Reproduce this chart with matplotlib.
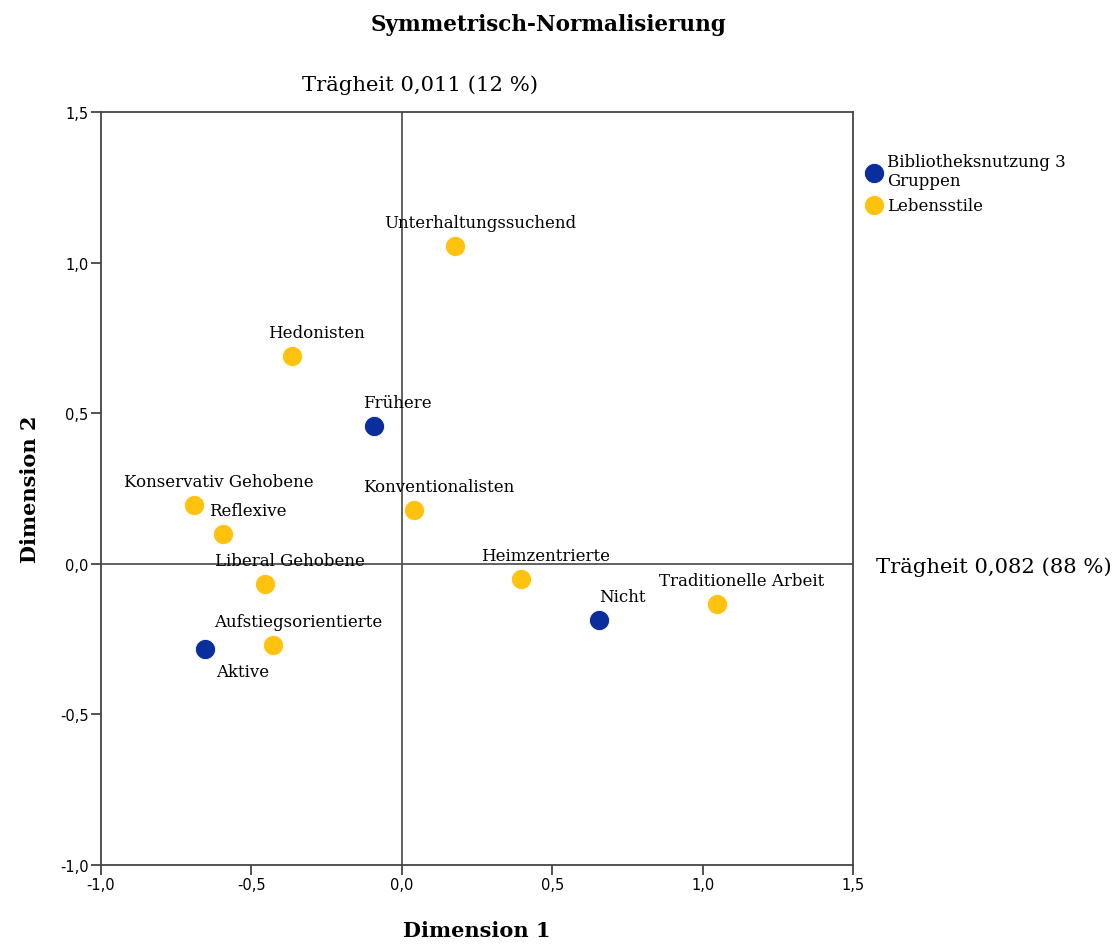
import matplotlib
matplotlib.use("Agg")
import matplotlib.pyplot as plt
from matplotlib.ticker import FixedLocator, FuncFormatter

# Bibliotheksnutzung 3 Gruppen
usage_labels = ["Frühere", "Nicht", "Aktive"]
usage_dim1 = [-0.093, 0.655, -0.655]
usage_dim2 = [0.458, -0.186, -0.282]

# Lebensstile
style_labels = ["Unterhaltungssuchend", "Hedonisten", "Konservativ Gehobene",
                "Reflexive", "Konventionalisten", "Liberal Gehobene",
                "Heimzentrierte", "Traditionelle Arbeit", "Aufstiegsorientierte"]
style_dim1 = [0.176, -0.366, -0.69, -0.595, 0.04, -0.455, 0.396, 1.047, -0.429]
style_dim2 = [1.056, 0.69, 0.196, 0.10, 0.18, -0.066, -0.05, -0.133, -0.269]

ticks = [-1.0, -0.5, 0.0, 0.5, 1.0, 1.5]

blue = "#0a2f9c"
yellow = "#ffc20e"
serif = ["DejaVu Serif"]

fig = plt.figure(figsize=(11.16, 9.45), dpi=100)
ax = fig.add_axes([101 / 1116, 1 - 866 / 945, 752 / 1116, 753 / 945])

ax.axhline(0, color="#555555", lw=1.3, zorder=1)
ax.axvline(0, color="#555555", lw=1.3, zorder=1)

ax.scatter(usage_dim1, usage_dim2, s=210, color=blue, edgecolors="white",
           linewidths=0.6, zorder=3, label="Bibliotheksnutzung 3\nGruppen")
ax.scatter(style_dim1, style_dim2, s=210, color=yellow, edgecolors="white",
           linewidths=0.6, zorder=3, label="Lebensstile")

for name, x, y in zip(usage_labels, usage_dim1, usage_dim2):
    off = (38, -23) if name == "Aktive" else (24, 23)
    ax.annotate(name, (x, y), xytext=off, textcoords="offset pixels",
                ha="center", va="center", fontsize=12, family=serif, zorder=4)
for name, x, y in zip(style_labels, style_dim1, style_dim2):
    ax.annotate(name, (x, y), xytext=(25, 23), textcoords="offset pixels",
                ha="center", va="center", fontsize=12, family=serif, zorder=4)

ax.set_xlim(-1.0, 1.5)
ax.set_ylim(-1.0, 1.5)
fmt = FuncFormatter(lambda v, p: f"{v:.1f}".replace(".", ","))
ax.xaxis.set_major_locator(FixedLocator(ticks))
ax.yaxis.set_major_locator(FixedLocator(ticks))
ax.xaxis.set_major_formatter(fmt)
ax.yaxis.set_major_formatter(fmt)
ax.tick_params(direction="out", length=7, width=1.3, color="#444444",
               labelsize=10.5, pad=2)
for sp in ax.spines.values():
    sp.set_color("#444444")
    sp.set_linewidth(1.3)

ax.set_xlabel("Dimension 1", fontsize=15, fontweight="bold", family=serif,
              labelpad=20)
ax.set_ylabel("Dimension 2", fontsize=15, fontweight="bold", family=serif,
              labelpad=14)

fig.text(549 / 1116, 1 - 25 / 945, "Symmetrisch-Normalisierung", ha="center",
         va="center", fontsize=15.5, fontweight="bold", family=serif)
fig.text(302 / 1116, 1 - 85 / 945, "Trägheit 0,011 (12 %)", ha="left",
         va="center", fontsize=15.2, family=serif)
fig.text(876 / 1116, 1 - 567 / 945, "Trägheit 0,082 (88 %)", ha="left",
         va="center", fontsize=15.2, family=serif)

ax.legend(loc="upper left", bbox_to_anchor=(1.005, 0.955), frameon=False,
          prop={"family": serif, "size": 12}, handletextpad=0.1,
          borderaxespad=0, labelspacing=0.45, handlelength=1.3,
          scatterpoints=1)

fig.savefig("out.png", dpi=100)
